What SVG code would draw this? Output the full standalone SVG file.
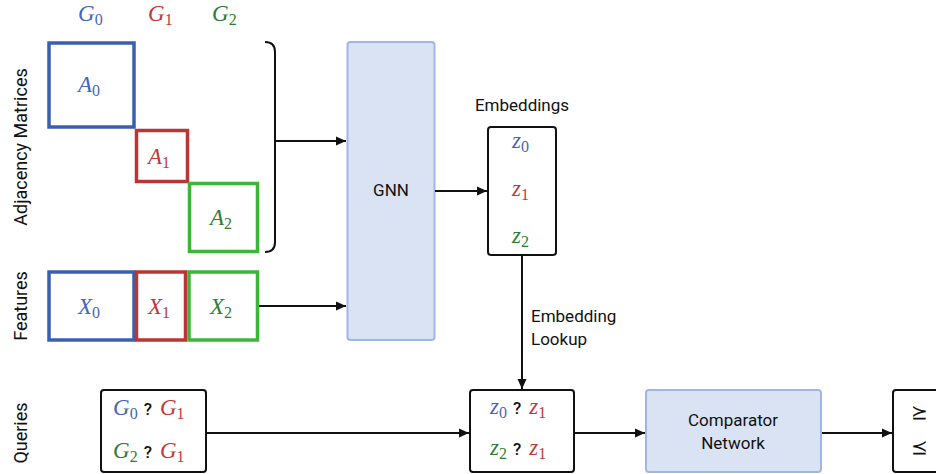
<svg xmlns="http://www.w3.org/2000/svg" width="936" height="474" viewBox="0 0 936 474">
<style>
.m{font-family:"Liberation Serif","DejaVu Serif",serif;font-style:italic;font-size:23px}
.s{font-style:normal;font-size:16px}
.sa{font-family:Roboto,"Liberation Sans",sans-serif;font-size:17px;fill:#111}
.lab{font-family:Roboto,"Liberation Sans",sans-serif;font-size:18px;fill:#111}
.b{fill:#4466bb}.r{fill:#c0393b}.g{fill:#2e7d32}
.q{font-family:Roboto,"Liberation Sans",sans-serif;font-size:17px;font-weight:500;fill:#111}
.box{fill:#fff;stroke:#111;stroke-width:2}
.blue{fill:#dae3f3;stroke:#9fb7e6;stroke-width:2}
.conn{fill:none;stroke:#111;stroke-width:2}
</style>
<defs>
<marker id="ah" markerWidth="10" markerHeight="10" refX="10" refY="5" orient="auto" markerUnits="userSpaceOnUse"><path d="M0,0.5 L10,5 L0,9.5 Z" fill="#111"/></marker>
</defs>
<g id="side-labels">
<text class="lab" transform="translate(27,147) rotate(-90)" text-anchor="middle">Adjacency Matrices</text>
<text class="lab" transform="translate(27,306) rotate(-90)" text-anchor="middle">Features</text>
<text class="lab" transform="translate(27,433) rotate(-90)" text-anchor="middle">Queries</text>
</g>
<g id="graph-labels">
<text class="m b" x="78" y="21">G<tspan class="s" dy="4">0</tspan></text>
<text class="m r" x="148" y="21">G<tspan class="s" dy="4">1</tspan></text>
<text class="m g" x="212" y="21">G<tspan class="s" dy="4">2</tspan></text>
</g>
<g id="A0"><rect x="49" y="43" width="85" height="84" fill="#fff" stroke="#3a5fb0" stroke-width="3.5"/><text class="m b" x="78" y="92">A<tspan class="s" dy="4">0</tspan></text></g>
<g id="A1"><rect x="136.5" y="130.5" width="51" height="51" fill="#fff" stroke="#b83636" stroke-width="3.5"/><text class="m r" x="148" y="164">A<tspan class="s" dy="4">1</tspan></text></g>
<g id="A2"><rect x="189.5" y="183.5" width="68" height="68" fill="#fff" stroke="#3db53a" stroke-width="3.5"/><text class="m g" x="210" y="225">A<tspan class="s" dy="4">2</tspan></text></g>
<g id="X0"><rect x="49" y="272" width="85" height="68" fill="#fff" stroke="#3a5fb0" stroke-width="3.5"/><text class="m b" x="78" y="314">X<tspan class="s" dy="4">0</tspan></text></g>
<g id="X1"><rect x="136.5" y="272" width="49" height="68" fill="#fff" stroke="#b83636" stroke-width="3.5"/><text class="m r" x="148" y="314">X<tspan class="s" dy="4">1</tspan></text></g>
<g id="X2"><rect x="189" y="272" width="68.5" height="68" fill="#fff" stroke="#3db53a" stroke-width="3.5"/><text class="m g" x="210" y="314">X<tspan class="s" dy="4">2</tspan></text></g>
<g id="brace"><path class="conn" d="M265,42 Q275,42 275,52 L275,242 Q275,252 265,252"/></g>
<g id="GNN"><rect class="blue" x="347.5" y="42" width="87" height="298" rx="3"/><text class="sa" x="391" y="196" text-anchor="middle">GNN</text></g>
<g id="Embeddings">
<text class="sa" x="522" y="111" text-anchor="middle">Embeddings</text>
<rect class="box" x="488" y="127" width="68" height="128" rx="3"/>
<text class="m b" x="512" y="148">z<tspan class="s" dy="4">0</tspan></text>
<text class="m r" x="512" y="196">z<tspan class="s" dy="4">1</tspan></text>
<text class="m g" x="512" y="243">z<tspan class="s" dy="4">2</tspan></text>
</g>
<g id="Queries">
<rect class="box" x="101" y="390" width="105" height="82" rx="3"/>
<text x="113" y="415"><tspan class="m b">G<tspan class="s" dy="4">0</tspan></tspan><tspan class="q" dx="6" dy="-4">?</tspan><tspan class="m r" dx="8">G<tspan class="s" dy="4">1</tspan></tspan></text>
<text x="113" y="458"><tspan class="m g">G<tspan class="s" dy="4">2</tspan></tspan><tspan class="q" dx="6" dy="-4">?</tspan><tspan class="m r" dx="8">G<tspan class="s" dy="4">1</tspan></tspan></text>
</g>
<g id="Pairs">
<rect class="box" x="470" y="390" width="104" height="82" rx="3"/>
<text x="490" y="414"><tspan class="m b">z<tspan class="s" dy="4">0</tspan></tspan><tspan class="q" dx="6" dy="-4">?</tspan><tspan class="m r" dx="8">z<tspan class="s" dy="4">1</tspan></tspan></text>
<text x="490" y="455"><tspan class="m g">z<tspan class="s" dy="4">2</tspan></tspan><tspan class="q" dx="6" dy="-4">?</tspan><tspan class="m r" dx="8">z<tspan class="s" dy="4">1</tspan></tspan></text>
</g>
<g id="Comparator"><rect class="blue" x="646" y="390" width="175" height="82" rx="3"/><text class="sa" x="733" y="426" text-anchor="middle" font-size="18">Comparator</text><text class="sa" x="733" y="449" text-anchor="middle" font-size="18">Network</text></g>
<g id="Output">
<rect class="box" x="893" y="390" width="60" height="82" rx="3"/>
<text x="911" y="419" font-family="DejaVu Serif,serif" font-size="20" fill="#111">⪰</text>
<text x="911" y="454" font-family="DejaVu Serif,serif" font-size="20" fill="#111">⪯</text>
</g>
<g id="connectors">
<path class="conn" d="M275,141 L346,141" marker-end="url(#ah)"/>
<path class="conn" d="M259,306 L346,306" marker-end="url(#ah)"/>
<path class="conn" d="M435,191 L487,191" marker-end="url(#ah)"/>
<path class="conn" d="M522,256 L522,389" marker-end="url(#ah)"/>
<path class="conn" d="M207,433 L469,433" marker-end="url(#ah)"/>
<path class="conn" d="M575,433 L645,433" marker-end="url(#ah)"/>
<path class="conn" d="M822,433 L892,433" marker-end="url(#ah)"/>
<text class="sa" x="531" y="322">Embedding</text>
<text class="sa" x="531" y="345">Lookup</text>
</g>
</svg>
